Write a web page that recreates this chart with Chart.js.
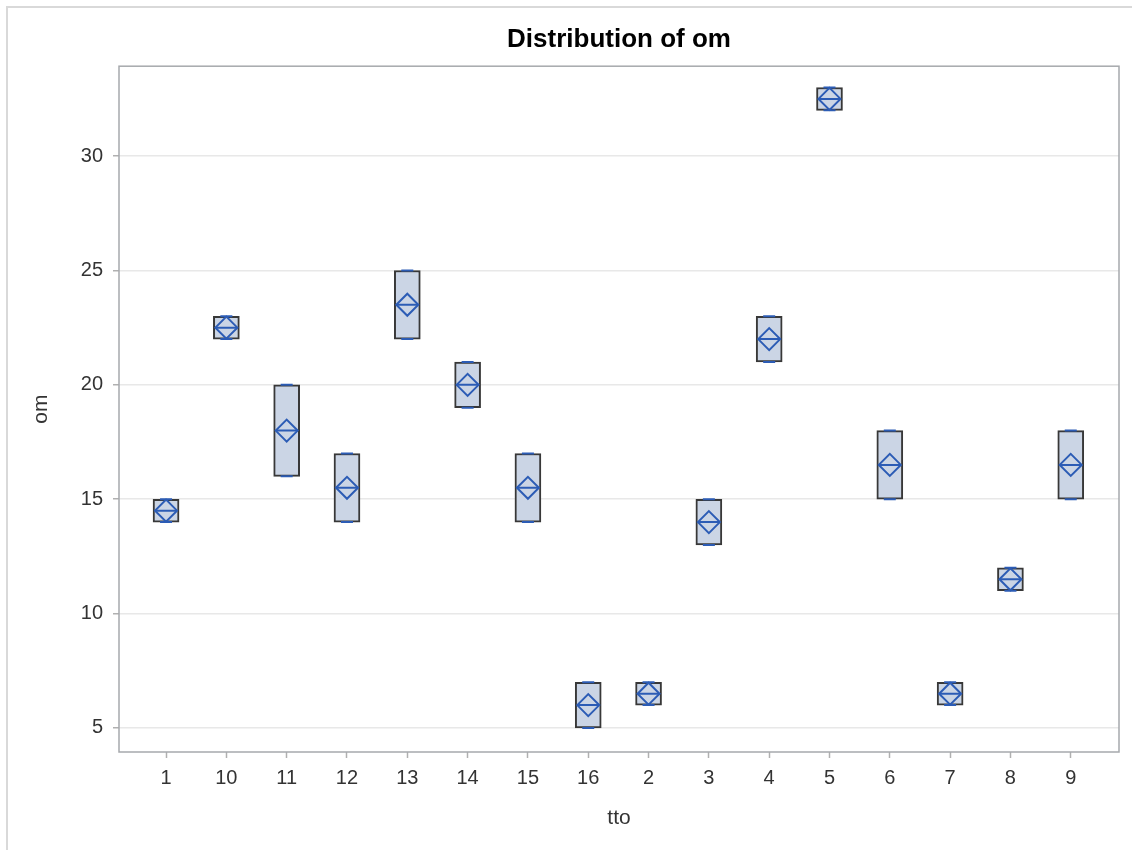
<!DOCTYPE html>
<html>
<head>
<meta charset="utf-8">
<script src="https://cdn.jsdelivr.net/npm/chart.js@4.4.0/dist/chart.umd.min.js"></script>
<style>
  html, body { margin: 0; padding: 0; background: #fff; }
  #wrap { position: relative; width: 1132px; height: 850px; }
  #frame {
    position: absolute; left: 6px; top: 6px; right: 0; bottom: 0;
    border-left: 2px solid #d9d9d9; border-top: 2px solid #d9d9d9;
  }
  #omChart { position: absolute; left: 0; top: 0; }
</style>
</head>
<body>
<div id="wrap">
  <div id="frame"></div>
  <canvas id="omChart" width="1132" height="850"></canvas>
</div>
<script>
// tto groups, in the order SAS sorts them (as text)
const categories = ['1', '10', '11', '12', '13', '14', '15', '16', '2', '3', '4', '5', '6', '7', '8', '9']
const boxMin = [14, 22, 16, 14, 22, 19, 14, 5, 6, 13, 21, 32, 15, 6, 11, 15]
const boxMax = [15, 23, 20, 17, 25, 21, 17, 7, 7, 15, 23, 33, 18, 7, 12, 18]
const medians = [14.5, 22.5, 18, 15.5, 23.5, 20, 15.5, 6, 6.5, 14, 22, 32.5, 16.5, 6.5, 11.5, 16.5]
const means = [14.5, 22.5, 18, 15.5, 23.5, 20, 15.5, 6, 6.5, 14, 22, 32.5, 16.5, 6.5, 11.5, 16.5]
const yTicks = [5, 10, 15, 20, 25, 30]

const FONT = "'Liberation Sans', Arial, sans-serif"
const BLUE = '#2c5cb5'

const plotFrame = {
  id: 'plotFrame',
  afterDatasetsDraw(chart) {
    const { ctx, chartArea: a } = chart
    ctx.save()
    ctx.strokeStyle = '#a6a9ad'
    ctx.lineWidth = 1.5
    ctx.strokeRect(a.left, a.top, a.right - a.left, a.bottom - a.top)
    ctx.restore()
  }
}

function pts(values) {
  return values.map((v, i) => ({ x: i, y: v }))
}

function markers(values, style, radius) {
  return {
    type: 'line',
    data: pts(values),
    showLine: false,
    pointStyle: style,
    pointRadius: radius,
    pointHoverRadius: radius,
    pointBorderColor: BLUE,
    pointBackgroundColor: 'rgba(0,0,0,0)',
    pointBorderWidth: 2,
    order: 1
  }
}

new Chart(document.getElementById('omChart'), {
  type: 'bar',
  data: {
    datasets: [
      markers(means, 'rectRot', 11),
      markers(medians, 'line', 11),
      markers(boxMin, 'line', 6),
      markers(boxMax, 'line', 6),
      {
        type: 'bar',
        data: boxMin.map((v, i) => ({ x: i, y: [v, boxMax[i]] })),
        backgroundColor: '#cbd5e5',
        borderColor: '#383838',
        borderWidth: 2,
        borderSkipped: false,
        barThickness: 26,
        order: 2
      }
    ]
  },
  options: {
    responsive: false,
    animation: false,
    events: [],
    layout: { padding: { left: 0, right: 12, top: 0, bottom: 0 } },
    plugins: {
      legend: { display: false },
      tooltip: { enabled: false },
      title: {
        display: true,
        text: 'Distribution of om',
        fullSize: false,
        color: '#000',
        font: { family: FONT, size: 26, weight: 'bold' },
        padding: { top: 24, bottom: 11 }
      }
    },
    scales: {
      x: {
        type: 'linear',
        offset: false,
        min: -0.78,
        max: 15.8,
        afterBuildTicks(scale) {
          scale.ticks = categories.map((c, i) => ({ value: i }))
        },
        afterFit(scale) { scale.height = 98 },
        ticks: {
          autoSkip: false,
          maxRotation: 0,
          padding: 8,
          color: '#333',
          font: { family: FONT, size: 20 },
          callback: (v) => categories[v]
        },
        grid: {
          offset: false,
          drawOnChartArea: false,
          drawTicks: true,
          tickLength: 6,
          tickColor: '#b0b0b0',
          tickWidth: 1.5
        },
        border: { display: false },
        title: {
          display: true,
          text: 'tto',
          color: '#333',
          font: { family: FONT, size: 21 },
          padding: { top: 0, bottom: 19 }
        }
      },
      y: {
        min: 3.95,
        max: 33.93,
        afterBuildTicks(scale) {
          scale.ticks = yTicks.map((v) => ({ value: v }))
        },
        afterFit(scale) { scale.width = 119 },
        ticks: {
          padding: 10,
          color: '#333',
          font: { family: FONT, size: 20 }
        },
        grid: {
          color: '#e8e8e8',
          lineWidth: 1.5,
          tickLength: 6,
          tickColor: '#b0b0b0',
          tickWidth: 1.5
        },
        border: { display: false },
        title: {
          display: true,
          text: 'om',
          color: '#333',
          font: { family: FONT, size: 21 },
          padding: { top: 29, bottom: 0 }
        }
      }
    }
  },
  plugins: [plotFrame]
})
</script>
</body>
</html>
